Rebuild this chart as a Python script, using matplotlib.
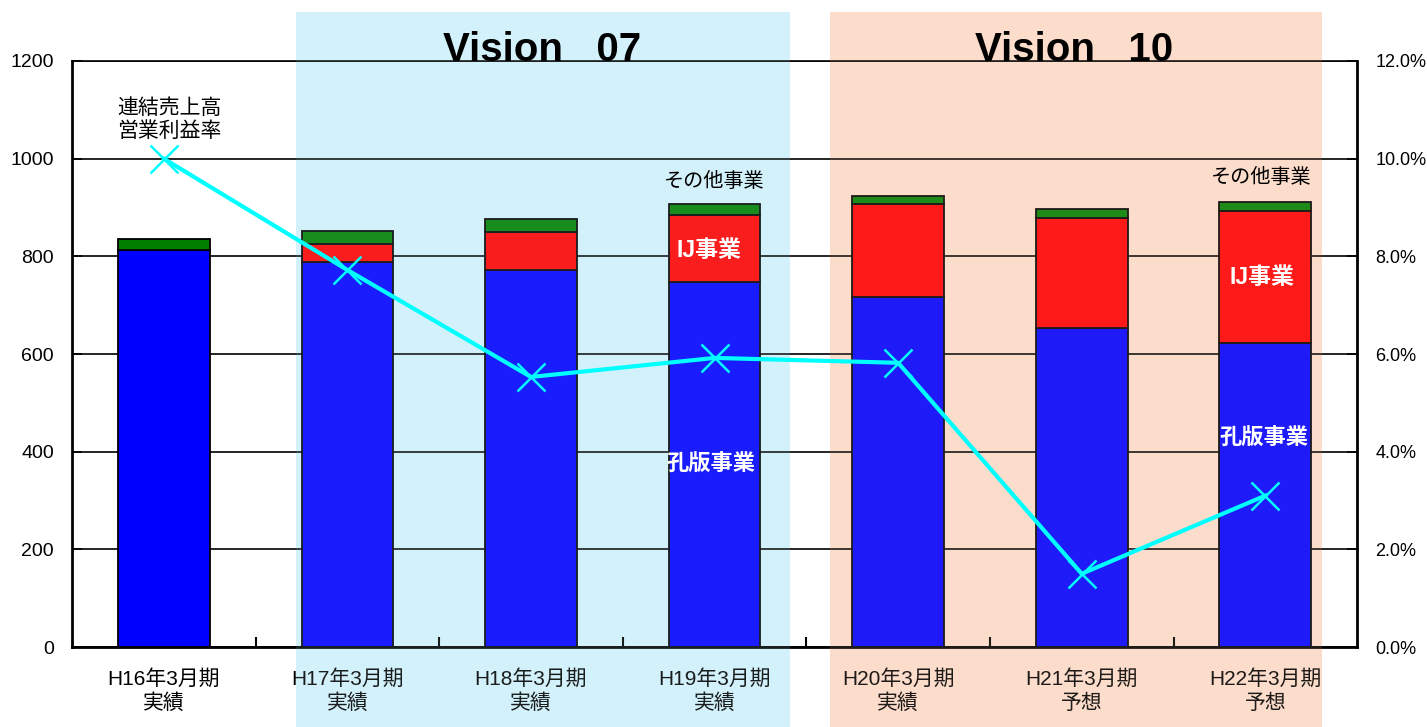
import numpy as np
import matplotlib
matplotlib.use('Agg')
import matplotlib.pyplot as plt
from matplotlib.patches import Rectangle
from matplotlib.transforms import blended_transform_factory

plt.rcParams['font.family'] = ['Liberation Sans', 'Noto Sans CJK JP', 'DejaVu Sans']

# data
periods = ['H16年3月期\n実績', 'H17年3月期\n実績', 'H18年3月期\n実績', 'H19年3月期\n実績',
           'H20年3月期\n実績', 'H21年3月期\n予想', 'H22年3月期\n予想']
koban = [813, 788, 772, 747, 717, 653, 623]      # 孔版事業
ij = [0, 37, 78, 138, 190, 226, 270]             # IJ事業
other = [22, 27, 26, 22, 17, 18, 18]             # その他事業
margin = [10.0, 7.72, 5.53, 5.92, 5.82, 1.5, 3.1]  # 連結売上高営業利益率 (%)

x = np.arange(len(periods))
koban = np.array(koban)
ij = np.array(ij)
other = np.array(other)

fig = plt.figure(figsize=(14.27, 7.27), dpi=100)
ax = fig.add_axes([0.0505, 0.1100, 0.9005, 0.8061])
ax.set_facecolor('none')

blue_shade = '#d3f1fa'
peach_shade = '#fcdccb'
tr = blended_transform_factory(ax.transData, fig.transFigure)
for (x0, x1), c in [((0.72, 3.41), blue_shade), ((3.63, 6.31), peach_shade)]:
    fig.patches.append(Rectangle((x0, 0), x1 - x0, 0.984, transform=tr,
                                 facecolor=c, edgecolor='none', zorder=-1))
    # faint tint over the bars, like the dithered overlay
    fig.patches.append(Rectangle((x0, 0), x1 - x0, 0.984, transform=tr,
                                 facecolor=c, edgecolor='none', alpha=0.12, zorder=0.5))

w = 0.5
ax.bar(x, koban, w, color='#0000ff', edgecolor='black', linewidth=1.3, zorder=3)
ax.bar(x, ij, w, bottom=koban, color='#ff0000', edgecolor='black', linewidth=1.3, zorder=3)
ax.bar(x, other, w, bottom=koban + ij, color='#007f00', edgecolor='black', linewidth=1.3, zorder=3)

ax.set_xlim(-0.5, len(periods) - 0.5)
ax.set_ylim(0, 1200)
ax.set_yticks(range(0, 1201, 200))
ax.yaxis.grid(True, color='black', linewidth=1.2, zorder=1)
ax.set_axisbelow(True)
ax.tick_params(axis='y', direction='in', length=7, width=1.2, labelsize=14, pad=13)
ax.set_xticks(x)
ax.set_xticklabels(periods, fontsize=15, linespacing=1.3)
ax.set_xticks(x[:-1] + 0.5, minor=True)
ax.tick_params(axis='x', which='major', length=0, pad=16)
ax.tick_params(axis='x', which='minor', direction='in', length=7, width=1.5)
for s in ['left', 'bottom', 'right']:
    ax.spines[s].set_linewidth(2)
ax.spines['top'].set_linewidth(1.2)

ax2 = ax.twinx()
ax2.set_zorder(1)
ax2.set_facecolor('none')
ax2.plot(x, margin, color='#00ffff', linewidth=3, marker='x', markersize=20,
         markeredgewidth=1.8, zorder=5)
ax2.set_ylim(0, 12)
ax2.set_yticks(np.arange(0, 12.1, 2))
ax2.set_yticklabels(['%.1f%%' % v for v in np.arange(0, 12.1, 2)])
ax2.tick_params(axis='y', direction='in', length=7, width=1.2, labelsize=13, pad=13)
for s in ax2.spines.values():
    s.set_visible(False)

dt = ax.transData
ax2.text(0.03, 1080, '連結売上高\n営業利益率', transform=dt, ha='center', va='center',
         fontsize=15, linespacing=1.25)
ax2.text(3.0, 954, 'その他事業', transform=dt, ha='center', va='center', fontsize=14.5)
ax2.text(5.98, 962, 'その他事業', transform=dt, ha='center', va='center', fontsize=14.5)
ax2.text(2.97, 811, 'IJ事業', transform=dt, ha='center', va='center', fontsize=16.5,
         color='white', fontweight='bold')
ax2.text(5.98, 756, 'IJ事業', transform=dt, ha='center', va='center', fontsize=16.5,
         color='white', fontweight='bold')
ax2.text(2.98, 373, '孔版事業', transform=dt, ha='center', va='center', fontsize=16,
         color='white', fontweight='bold')
ax2.text(5.99, 426, '孔版事業', transform=dt, ha='center', va='center', fontsize=16,
         color='white', fontweight='bold')

ax2.text(2.06, 1201, 'Vision   07', transform=dt, ha='center', va='baseline',
         fontsize=29, fontweight='bold')
ax2.text(4.96, 1201, 'Vision   10', transform=dt, ha='center', va='baseline',
         fontsize=29, fontweight='bold')

fig.savefig('out.png', dpi=100)
